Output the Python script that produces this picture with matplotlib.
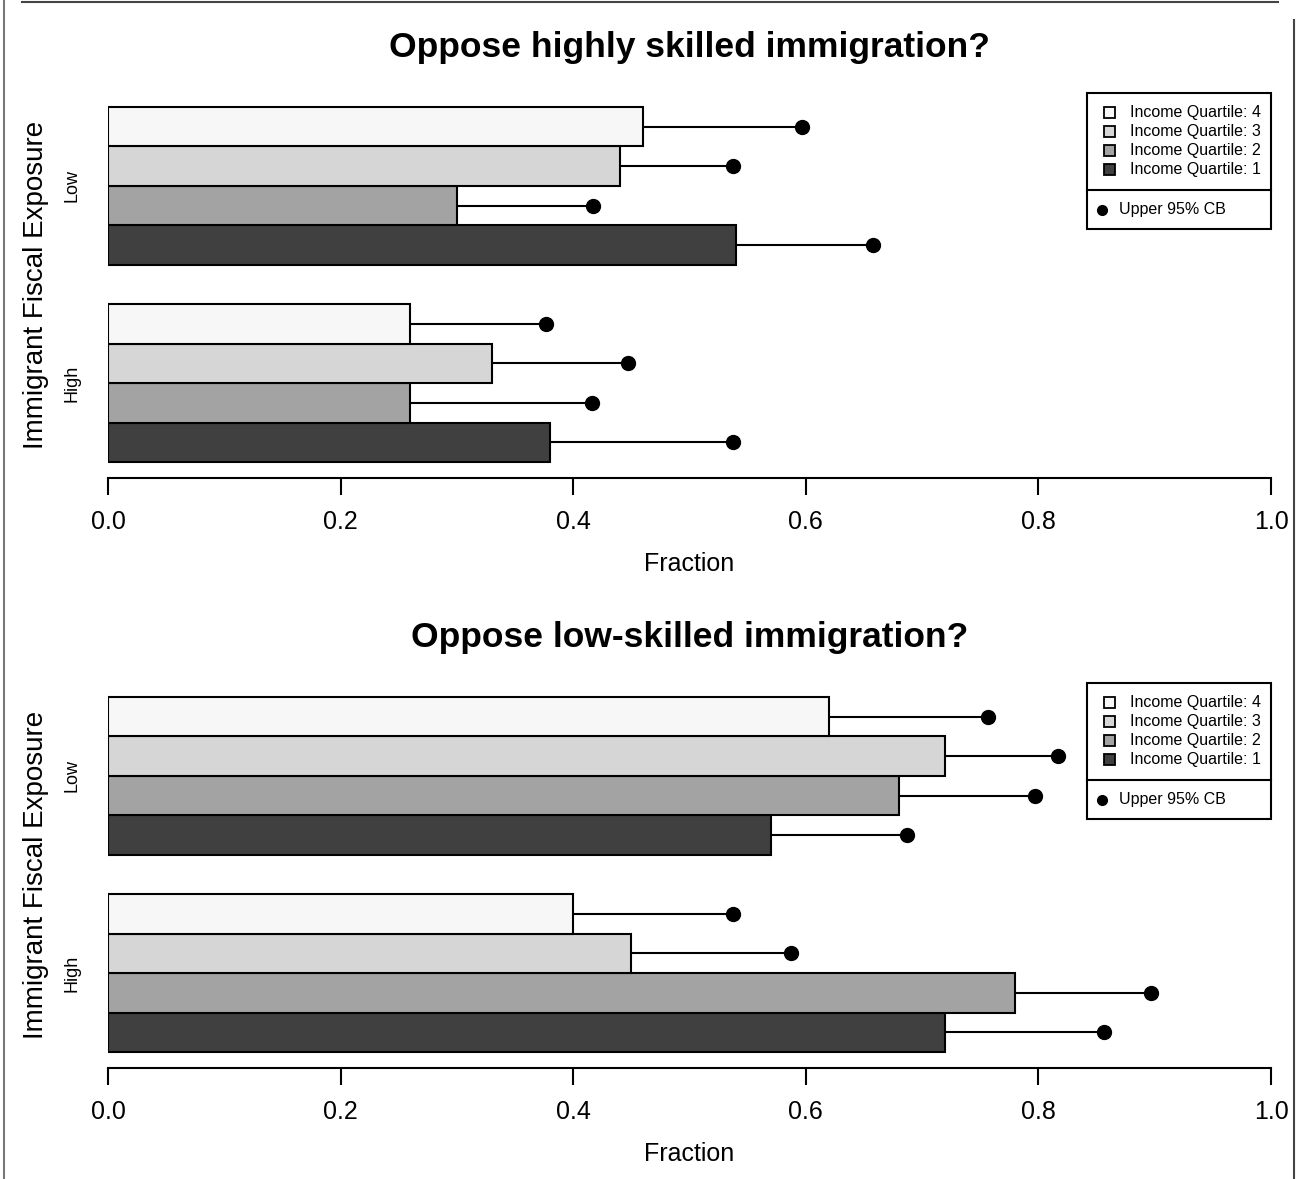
import matplotlib.pyplot as plt
from matplotlib.lines import Line2D
from matplotlib.patches import Rectangle

plt.rcParams['font.family'] = ['Liberation Sans', 'DejaVu Sans']

# ----------------------------------------------------------------------------
# Data (fraction opposing), ordered Q1..Q4 within each exposure group
quartiles = ["1", "2", "3", "4"]
groups = ["High", "Low"]
colors = ["#404040", "#a3a3a3", "#d6d6d6", "#f7f7f7"]

titles = ["Oppose highly skilled immigration?", "Oppose low-skilled immigration?"]

high_skill_high = [0.38, 0.26, 0.33, 0.26]
high_skill_high_ub = [0.537, 0.416, 0.447, 0.377]
high_skill_low = [0.54, 0.30, 0.44, 0.46]
high_skill_low_ub = [0.658, 0.417, 0.537, 0.597]

low_skill_high = [0.72, 0.78, 0.45, 0.40]
low_skill_high_ub = [0.856, 0.897, 0.587, 0.537]
low_skill_low = [0.57, 0.68, 0.72, 0.62]
low_skill_low_ub = [0.687, 0.797, 0.817, 0.757]

panels = [
    (high_skill_high, high_skill_high_ub, high_skill_low, high_skill_low_ub),
    (low_skill_high, low_skill_high_ub, low_skill_low, low_skill_low_ub),
]

W, H = 1298, 1179
fig = plt.figure(figsize=(W / 100, H / 100), dpi=100)


def px_box(left, top, right, bottom):
    return [left / W, 1 - bottom / H, (right - left) / W, (bottom - top) / H]


axes_boxes = [px_box(108, 92.8, 1271, 476.2), px_box(108, 682.8, 1271, 1066.2)]


def draw_legend(ax):
    # legend box measured in pixels from the axes top-right corner
    bb = ax.get_position()
    aw, ah = bb.width * W, bb.height * H

    def fx(dx):
        return 1 + dx / aw

    def fy(dy):
        return 1 - dy / ah

    kw = dict(transform=ax.transAxes, clip_on=False)
    ax.add_patch(Rectangle((fx(-184), fy(136)), 184 / aw, 136 / ah,
                           fc="white", ec="black", lw=1.5, zorder=5, **kw))
    ax.add_line(Line2D([fx(-184), fx(0)], [fy(97), fy(97)], color="black",
                       lw=1.5, zorder=6, **kw))
    for i, q in enumerate(reversed(range(4))):
        yc = fy(20 + i * 19)
        ax.add_patch(Rectangle((fx(-167), yc - 5.5 / ah), 11 / aw, 11 / ah,
                               fc=colors[q], ec="black", lw=1.3, zorder=7, **kw))
        ax.text(fx(-141), yc, f"Income Quartile: {quartiles[q]}", fontsize=11.5,
                va="center", ha="left", zorder=7, **kw)
    yp = fy(117)
    ax.plot([fx(-169)], [yp], "o", color="black", ms=7, zorder=7, **kw)
    ax.text(fx(-152), yp, "Upper 95% CB", fontsize=11.5, va="center",
            ha="left", zorder=7, **kw)


for box, title, (hv, hub, lv, lub) in zip(axes_boxes, titles, panels):
    ax = fig.add_axes(box)
    for g, (vals, ubs) in enumerate([(hv, hub), (lv, lub)]):
        ys = [1 + g * 5 + q for q in range(4)]
        ax.barh(ys, vals, height=1, align="edge", color=colors,
                edgecolor="black", linewidth=1.5, zorder=2)
        yc = [y + 0.5 for y in ys]
        ax.hlines(yc, vals, ubs, color="black", lw=1.5, zorder=1)
        ax.plot(ubs, yc, "o", color="black", ms=10, zorder=3)
    ax.set_xlim(0, 1)
    ax.set_ylim(0.64, 10.36)
    for s in ["top", "right", "left"]:
        ax.spines[s].set_visible(False)
    ax.spines["bottom"].set_linewidth(1.5)
    ax.spines["bottom"].set_position(("outward", 1))
    ax.set_xticks([0, 0.2, 0.4, 0.6, 0.8, 1.0])
    ax.set_xticklabels(["0.0", "0.2", "0.4", "0.6", "0.8", "1.0"])
    ax.tick_params(axis="x", length=12, width=1.5, labelsize=18, pad=11)
    ax.set_yticks([3, 8])
    ax.set_yticklabels(groups, rotation=90, va="center")
    ax.tick_params(axis="y", length=0, labelsize=13, pad=20)
    ax.set_xlabel("Fraction", fontsize=18, labelpad=13)
    ax.set_ylabel("Immigrant Fiscal Exposure", fontsize=20, labelpad=10)
    ax.set_title(title, fontsize=25.5, fontweight="bold", pad=26)
    draw_legend(ax)

# outer frame lines (cropped device border)
fig.add_artist(Line2D([22 / W, 1278 / W], [1 - 2 / H, 1 - 2 / H], color="#444444", lw=1.5))
fig.add_artist(Line2D([4 / W, 4 / W], [0, 1], color="#777777", lw=1.5))
fig.add_artist(Line2D([1294 / W, 1294 / W], [0, 1 - 20 / H], color="#444444", lw=1.5))

fig.savefig("out.png", dpi=100)
